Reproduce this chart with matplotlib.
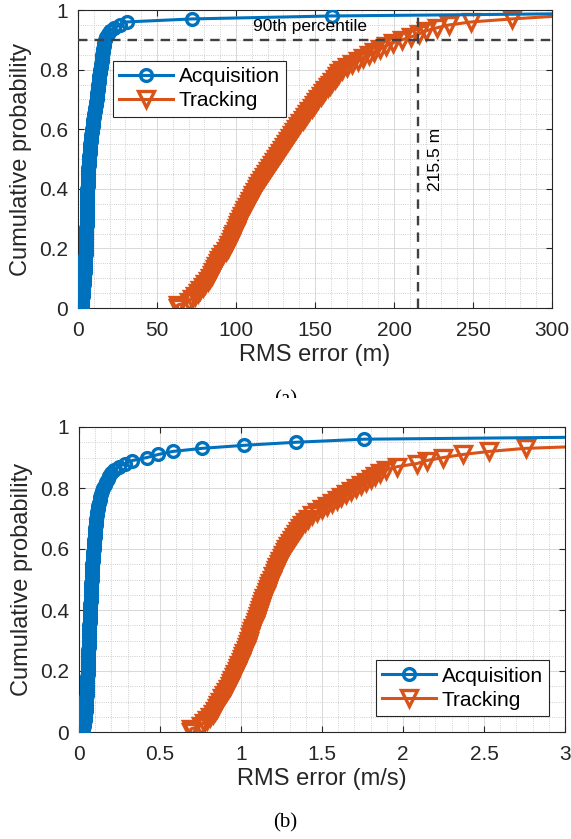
import numpy as np
import matplotlib
matplotlib.use("Agg")
import matplotlib.pyplot as plt
from matplotlib.transforms import Bbox

# sorted RMS errors (100 runs each)
# (a) position error [m]
acq_pos = [2.3, 2.6, 2.8, 3.0, 3.1, 3.3, 3.4, 3.6, 3.8, 4.0,
           4.1, 4.2, 4.3, 4.4, 4.5, 4.6, 4.7, 4.8, 4.9, 5.0,
           5.05, 5.1, 5.15, 5.2, 5.25, 5.3, 5.35, 5.4, 5.45, 5.5,
           5.55, 5.6, 5.65, 5.7, 5.75, 5.8, 5.85, 5.9, 5.95, 6.0,
           6.05, 6.1, 6.2, 6.3, 6.4, 6.5, 6.6, 6.7, 6.8, 6.9,
           7.1, 7.3, 7.5, 7.7, 7.9, 8.1, 8.3, 8.5, 8.7, 8.9,
           9.2, 9.5, 9.8, 10.1, 10.4, 10.7, 11.0, 11.3, 11.6, 11.9,
           12.1, 12.3, 12.5, 12.7, 12.9, 13.1, 13.3, 13.5, 13.7, 14.0,
           14.3, 14.6, 14.9, 15.2, 15.5, 15.8, 16.1, 16.4, 16.7, 17.0,
           17.8, 18.8, 20.0, 23.0, 26.5, 31.0, 72.0, 160.5, 360.0, 650.0]
trk_pos = [63, 70, 72, 74, 76, 77.5, 79, 80.5, 82, 83.5,
           84.5, 85.5, 86.5, 87.5, 88.5, 89.5, 90.5, 92, 93.5, 95,
           95.8, 96.6, 97.4, 98.2, 99, 99.8, 100.6, 101.4, 102.2, 103,
           104, 105, 106, 107, 108, 109, 110, 111, 112, 113,
           114.2, 115.4, 116.6, 117.8, 119, 120.2, 121.4, 122.6, 123.8, 125,
           126.3, 127.6, 128.9, 130.2, 131.5, 132.8, 134.1, 135.4, 136.7, 138,
           139.4, 140.8, 142.2, 143.6, 145, 146.4, 147.8, 149.2, 150.6, 152,
           153.5, 155, 156.5, 158, 159.5, 161, 162.5, 164, 165.5, 167,
           170, 173.5, 177, 180.5, 184, 187.5, 191, 195, 199.5, 205,
           211, 216, 220, 227, 235, 249, 274.5, 305, 340, 420]
# (b) velocity error [m/s]
acq_vel = [0.026, 0.030, 0.033, 0.036, 0.038, 0.040, 0.041, 0.042, 0.044, 0.045,
           0.046, 0.047, 0.048, 0.049, 0.050, 0.051, 0.052, 0.052, 0.053, 0.054,
           0.055, 0.055, 0.056, 0.056, 0.057, 0.058, 0.058, 0.059, 0.059, 0.060,
           0.061, 0.062, 0.062, 0.063, 0.064, 0.065, 0.065, 0.066, 0.067, 0.068,
           0.069, 0.070, 0.071, 0.072, 0.073, 0.074, 0.075, 0.076, 0.077, 0.078,
           0.079, 0.080, 0.081, 0.082, 0.083, 0.084, 0.085, 0.087, 0.088, 0.090,
           0.091, 0.093, 0.094, 0.096, 0.098, 0.099, 0.101, 0.103, 0.105, 0.107,
           0.110, 0.113, 0.116, 0.120, 0.124, 0.128, 0.132, 0.137, 0.143, 0.150,
           0.158, 0.167, 0.176, 0.186, 0.198, 0.215, 0.245, 0.285, 0.33, 0.42,
           0.49, 0.58, 0.76, 1.02, 1.34, 1.76, 3.8, 5.5, 8.0, 12.0]
trk_vel = [0.69, 0.75, 0.77, 0.79, 0.81, 0.825, 0.84, 0.85, 0.86, 0.87,
           0.882, 0.894, 0.906, 0.918, 0.93, 0.938, 0.946, 0.955, 0.964, 0.973,
           0.981, 0.989, 0.997, 1.005, 1.013, 1.021, 1.029, 1.036, 1.043, 1.05,
           1.057, 1.064, 1.07, 1.077, 1.084, 1.09, 1.097, 1.104, 1.11, 1.117,
           1.124, 1.131, 1.138, 1.145, 1.152, 1.16, 1.167, 1.174, 1.182, 1.19,
           1.198, 1.207, 1.216, 1.225, 1.234, 1.243, 1.252, 1.261, 1.27, 1.28,
           1.291, 1.302, 1.314, 1.326, 1.338, 1.351, 1.364, 1.378, 1.392, 1.415,
           1.44, 1.47, 1.5, 1.53, 1.56, 1.59, 1.62, 1.65, 1.68, 1.71,
           1.74, 1.77, 1.80, 1.83, 1.86, 1.895, 1.965, 2.085, 2.146, 2.249,
           2.372, 2.533, 2.757, 3.3, 3.8, 4.5, 5.5, 6.5, 8.0, 10.0]

p90_pos = 215.5  # [m] 90th percentile of tracking error
p90 = 0.9

BLUE = "#0072BD"
ORANGE = "#D95319"
DARK = "#262626"

plt.rcParams['font.family'] = ['Liberation Sans', 'DejaVu Sans']
plt.rcParams['axes.linewidth'] = 0.8


def ecdf(vals):
    # same output as MATLAB's ecdf: first point repeated at 0
    x = np.sort(np.asarray(vals, dtype=float))
    f = np.arange(1, len(x) + 1) / len(x)
    return np.concatenate([[x[0]], x]), np.concatenate([[0.0], f])


def style_axes(ax, xmax, xmajor, xminor):
    ax.set_xlim(0, xmax)
    ax.set_ylim(0, 1)
    ax.set_xticks(np.arange(0, xmax + xmajor / 2, xmajor))
    ax.set_xticks(np.arange(0, xmax + xminor / 2, xminor), minor=True)
    ax.set_yticks([0, 0.2, 0.4, 0.6, 0.8, 1])
    ax.set_yticklabels(["0", "0.2", "0.4", "0.6", "0.8", "1"])
    ax.set_yticks(np.arange(0, 1.001, 0.05), minor=True)
    ax.grid(True, which='major', color='#d8d8d8', linewidth=0.7)
    ax.grid(True, which='minor', color='#c0c0c0', linestyle=':', linewidth=0.6)
    ax.set_axisbelow(True)
    ax.tick_params(which='major', direction='in', length=4, width=0.8,
                   top=True, right=True, labelsize=15, colors=DARK)
    ax.tick_params(axis='x', which='major', pad=9)
    ax.tick_params(axis='y', which='major', pad=7)
    ax.tick_params(which='minor', length=0, top=True, right=True)
    for s in ax.spines.values():
        s.set_color(DARK)
    ax.set_ylabel("Cumulative probability", fontsize=17, color=DARK, labelpad=5)


def draw_cdfs(ax, acq, trk):
    xa, fa = ecdf(acq)
    xt, ft = ecdf(trk)
    ax.plot(xa, fa, '-o', color=BLUE, lw=2.2, ms=8.5, mew=2.4,
            mfc='none', label="Acquisition", zorder=3)
    ax.plot(xt, ft, '-v', color=ORANGE, lw=2.2, ms=11, mew=2.4,
            mfc='none', label="Tracking", zorder=2)


fig = plt.figure(figsize=(5.71, 8.39), dpi=100)

# ---- (a) position
ax1 = fig.add_axes([78 / 571, 1 - 308 / 839, 474 / 571, 298 / 839])
draw_cdfs(ax1, acq_pos, trk_pos)
ax1.axhline(p90, color='#404040', ls=(0, (4, 3)), lw=1.7, zorder=4)
ax1.axvline(p90_pos, color='#404040', ls=(0, (4, 3)), lw=1.7, zorder=4)
ax1.text(111, 0.945, "90th percentile", fontsize=12.5, va='center', ha='left', zorder=5)
ax1.text(p90_pos + 10.5, 0.5, "%.1f m" % p90_pos, fontsize=12.5, rotation=90,
         va='center', ha='center', zorder=5)
style_axes(ax1, 300, 50, 10)
ax1.set_xlabel("RMS error (m)", fontsize=17, color=DARK, labelpad=3)
leg1 = ax1.legend(loc='upper left', bbox_to_anchor=(0.074, 0.829), borderaxespad=0,
                  fontsize=15, fancybox=False, edgecolor=DARK, framealpha=1,
                  handlelength=2.6, handletextpad=0.25, borderpad=0.3,
                  labelspacing=0.25)
leg1.get_frame().set_linewidth(0.8)

# ---- (b) velocity
ax2 = fig.add_axes([79 / 571, 1 - 732 / 839, 486 / 571, 305 / 839])
draw_cdfs(ax2, acq_vel, trk_vel)
style_axes(ax2, 3, 0.5, 0.1)
ax2.set_xticklabels(["0", "0.5", "1", "1.5", "2", "2.5", "3"])
ax2.set_xlabel("RMS error (m/s)", fontsize=17, color=DARK, labelpad=3)
leg2 = ax2.legend(loc='lower right', bbox_to_anchor=(0.967, 0.0525), borderaxespad=0,
                  fontsize=15, fancybox=False, edgecolor=DARK, framealpha=1,
                  handlelength=2.6, handletextpad=0.25, borderpad=0.3,
                  labelspacing=0.25)
leg2.get_frame().set_linewidth(0.8)

# sub-captions; "(a)" is cut off by the page edge in the source
ta = fig.text(0.5, 1 - 390 / 839, "(a)", family='Liberation Serif', fontsize=15,
              ha='center', va='top')
ta.set_clip_box(Bbox([[0, 839 - 398], [571, 839]]))
ta.set_clip_on(True)
fig.text(0.5, 1 - 823 / 839, "(b)", family='Liberation Serif', fontsize=15,
         ha='center', va='center')

fig.savefig("out.png", dpi=100)
